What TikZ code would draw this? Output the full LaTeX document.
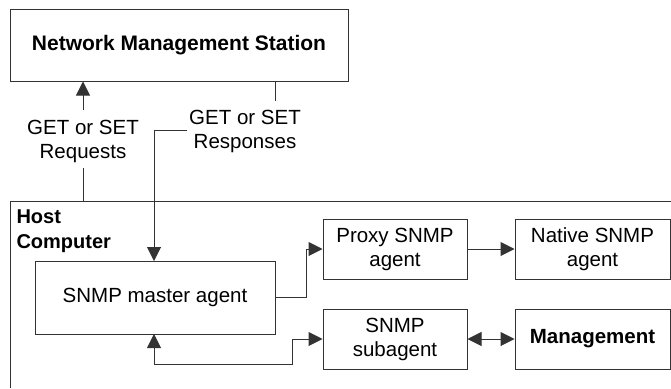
\documentclass[tikz,border=0pt]{standalone}
\usepackage{fontspec}
\setmainfont{Liberation Sans}
\usetikzlibrary{arrows.meta}
\begin{document}
\begin{tikzpicture}[x=1pt,y=-1pt,
  line width=1pt,
  every node/.style={font=\fontsize{20.5}{24}\selectfont},
  box/.style={draw=black!80, line width=1pt, minimum height=60pt, align=center, inner sep=0pt},
  lbl/.style={align=center, inner sep=0pt},
  wire/.style={draw=black!80, line width=1pt},
  arr/.style={wire, -{Triangle[length=14pt,width=14pt]}},
  darr/.style={wire, {Triangle[length=14pt,width=14pt]}-{Triangle[length=14pt,width=14pt]}}]
\useasboundingbox (0,0) rectangle (671,388);

% management station
\node[box, minimum width=338pt, minimum height=72pt, font=\fontsize{21}{24}\selectfont\bfseries]
  (nms) at (179,45) {Network Management Station};

% request / response labels
\node[lbl] (req) at (83,141) {GET or SET\\Requests};
\node[lbl] (resp) at (245,131) {GET or SET\\Responses};

% host computer frame (open to the right and bottom)
\draw[wire] (10,388) -- (10,201) -- (671,201);
\node[anchor=north west, align=left, inner sep=0pt, font=\fontsize{20}{25}\selectfont\bfseries]
  (host) at (16,209) {Host\\Computer};

% agents inside the host
\node[box, minimum width=240pt, minimum height=73pt] (master) at (155,297.5) {SNMP master agent};
\node[box, minimum width=144pt] (proxy) at (395,249) {Proxy SNMP\\agent};
\node[box, minimum width=155pt] (native) at (592.5,249) {Native SNMP\\agent};
\node[box, minimum width=144pt] (sub) at (395,339) {SNMP\\subagent};
\node[box, minimum width=155pt, font=\fontsize{20.5}{24}\selectfont\bfseries] (mgmt) at (592.5,339) {Management};

% connector end points
\coordinate (reqtop) at (83,110);
\coordinate (reqbot) at (83,168);
\coordinate (resptop) at (275,101);
\coordinate (respjoin) at (187,130);

% requests: host -> station
\draw[arr] (reqtop) -- (reqtop |- nms.south);
\draw[wire] (reqbot) -- (83,201);

% responses: station -> master agent
\draw[wire] (resptop |- nms.south) -- (resptop);
\draw[arr] (respjoin) -- (154,130) -- (154,261);

% master agent to proxy and subagent
\draw[arr] (master.east) -- (306,297.5) |- (proxy.west);
\draw[arr] (proxy.east) -- (native.west);
\draw[darr] (154,334) -- (154,364) -| (292,339) -- (sub.west);
\draw[darr] (sub.east) -- (mgmt.west);
\end{tikzpicture}
\end{document}
